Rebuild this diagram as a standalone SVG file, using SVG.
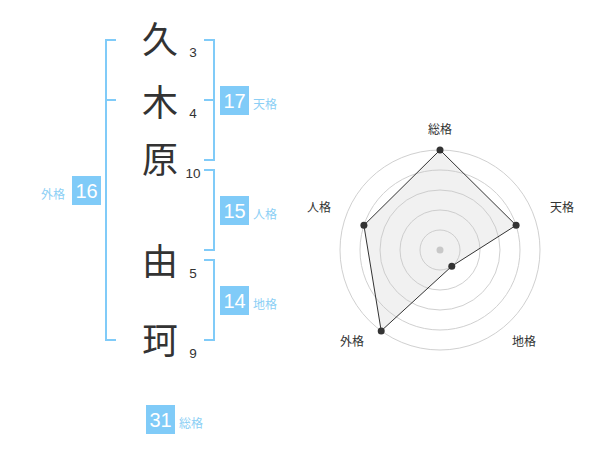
<svg xmlns="http://www.w3.org/2000/svg" width="600" height="470" viewBox="0 0 600 470">
<style>
.kanji{font-family:"Noto Sans CJK JP","Noto Sans",sans-serif;font-size:36px;fill:#333;text-anchor:middle}
.num{font-family:"Liberation Sans",Arial,sans-serif;font-size:13.5px;fill:#333;text-anchor:middle}
.br{fill:none;stroke:#80cbf8;stroke-width:2}
.box{fill:#80cbf8}
.bnum{font-family:"Liberation Sans",Arial,sans-serif;font-size:20px;fill:#fff;text-anchor:middle}
.lab{font-family:"Noto Sans CJK JP",sans-serif;font-size:12px;fill:#8ccff5}
.ring{fill:none;stroke:#d0d0d0;stroke-width:1}
.rlab{font-family:"Noto Sans CJK JP",sans-serif;font-size:12px;fill:#333;text-anchor:middle}
.dot{fill:#333}
</style>
<rect width="600" height="470" fill="#fff"/>
<g id="connectors">
<path class="br" d="M116,40 H106 V340 H116 M106,100 H116"/>
<path class="br" d="M204,40 H214 V160 H204 M214,100 H204"/>
<path class="br" d="M204,170 H214 V250 H204"/>
<path class="br" d="M204,260 H214 V340 H204"/>
</g>
<g id="char1"><text class="kanji" x="160" y="53">久</text><text class="num" x="193" y="57">3</text></g>
<g id="char2"><text class="kanji" x="160" y="116">木</text><text class="num" x="193" y="118">4</text></g>
<g id="char3"><text class="kanji" x="160" y="173">原</text><text class="num" x="193" y="178">10</text></g>
<g id="char4"><text class="kanji" x="160" y="275">由</text><text class="num" x="193" y="278">5</text></g>
<g id="char5"><text class="kanji" x="160" y="354">珂</text><text class="num" x="193" y="358">9</text></g>
<g id="tenkaku"><rect class="box" x="220" y="86" width="29" height="29"/><text class="bnum" x="234.5" y="108">17</text><text class="lab" x="253" y="109">天格</text></g>
<g id="jinkaku"><rect class="box" x="220" y="196" width="29" height="29"/><text class="bnum" x="234.5" y="218">15</text><text class="lab" x="253" y="219">人格</text></g>
<g id="chikaku"><rect class="box" x="220" y="286" width="29" height="29"/><text class="bnum" x="234.5" y="308">14</text><text class="lab" x="253" y="309">地格</text></g>
<g id="gaikaku"><rect class="box" x="72" y="176" width="29" height="29"/><text class="bnum" x="86.5" y="198">16</text><text class="lab" x="41" y="199">外格</text></g>
<g id="soukaku"><rect class="box" x="146" y="405" width="29" height="29"/><text class="bnum" x="160.5" y="427">31</text><text class="lab" x="179" y="428">総格</text></g>
<g id="radar">
<circle class="ring" cx="440" cy="250" r="20"/>
<circle class="ring" cx="440" cy="250" r="40"/>
<circle class="ring" cx="440" cy="250" r="60"/>
<circle class="ring" cx="440" cy="250" r="80"/>
<circle class="ring" cx="440" cy="250" r="100"/>
<circle cx="440" cy="250" r="3.5" fill="#c8c8c8"/>
<polygon points="440,150 516.1,225.3 451.8,266.2 381.2,330.9 363.9,225.3" fill="rgba(200,200,200,0.25)" stroke="#333" stroke-width="1"/>
<circle class="dot" cx="440" cy="150" r="3.5"/>
<circle class="dot" cx="516.1" cy="225.3" r="3.5"/>
<circle class="dot" cx="451.8" cy="266.2" r="3.5"/>
<circle class="dot" cx="381.2" cy="330.9" r="3.5"/>
<circle class="dot" cx="363.9" cy="225.3" r="3.5"/>
<text class="rlab" x="440" y="134">総格</text>
<text class="rlab" x="562" y="212">天格</text>
<text class="rlab" x="524" y="346">地格</text>
<text class="rlab" x="352" y="346">外格</text>
<text class="rlab" x="319" y="212">人格</text>
</g>
</svg>
